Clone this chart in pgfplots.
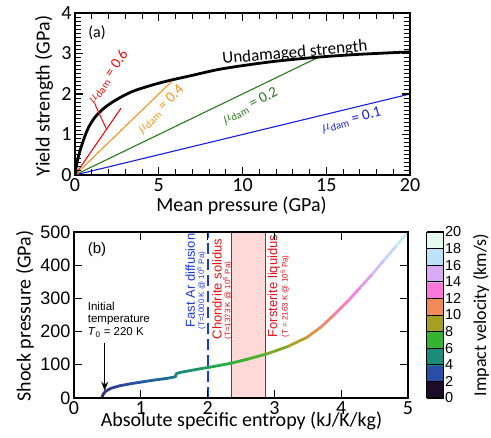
\documentclass[border=0pt]{standalone}
\usepackage{pgfplots}
\pgfplotsset{compat=1.18}
\usepackage{fontspec}
\setmainfont{Carlito}
\newfontfamily\arial{Liberation Sans}
\usetikzlibrary{arrows.meta}

\definecolor{cred}{RGB}{240,10,10}
\definecolor{corange}{RGB}{247,148,30}
\definecolor{cgreen}{RGB}{40,120,30}
\definecolor{cblue}{RGB}{20,30,220}
\definecolor{annred}{RGB}{232,16,26}
\definecolor{annblue}{RGB}{26,58,232}
\definecolor{shade}{RGB}{255,216,216}

\pgfplotsset{
  colormap={impact}{
    rgb255=(15,5,20) rgb255=(28,12,42) rgb255=(60,40,120) rgb255=(40,78,165)
    rgb255=(30,110,145) rgb255=(28,140,122) rgb255=(35,165,80) rgb255=(52,180,50)
    rgb255=(110,170,40) rgb255=(165,160,35) rgb255=(210,150,60) rgb255=(240,138,90)
    rgb255=(245,128,160) rgb255=(250,120,215) rgb255=(232,145,232) rgb255=(215,172,245)
    rgb255=(200,202,248) rgb255=(190,226,248) rgb255=(210,240,245) rgb255=(230,250,242)
    rgb255=(240,253,248)
  },
}

\pgfplotstableread{
s     p    v
0.42  3    1.8
0.44  12   2.0
0.47  20   2.2
0.55  29   2.5
0.69  37   2.8
0.85  43   3.0
1.04  49   3.3
1.20  54   3.6
1.39  59   4.0
1.52  64   4.3
1.53  73   4.6
1.59  77   4.8
1.75  83   5.2
1.89  88   5.5
2.04  93   5.8
2.20  99   6.2
2.36  105  6.6
2.60  117  7.1
2.89  133  7.8
3.20  155  8.8
3.49  183  9.8
3.70  214  10.8
3.89  250  11.8
4.10  292  12.9
4.29  334  13.9
4.47  374  15.0
4.64  415  16.0
4.82  457  17.0
5.00  500  18.0
}\hugoniot

\begin{document}
\begin{tikzpicture}

% ---------- panel (a)
\begin{axis}[
  at={(75pt,263pt)}, anchor=south west,
  scale only axis, width=335pt, height=162pt,
  xmin=0, xmax=20, ymin=0, ymax=4,
  xtick={0,5,...,20}, ytick={0,1,...,4},
  minor xtick={1,2,3,4,6,7,8,9,11,12,13,14,16,17,18,19},
  minor ytick={0.1,0.2,...,3.95},
  axis line style={line width=1.5pt},
  major tick style={black, line width=1.2pt},
  minor tick style={black, line width=0.9pt},
  major tick length=8pt, minor tick length=6pt,
  ticklabel style={font=\fontsize{20}{20}\selectfont},
  /pgf/number format/assume math mode=true,
]
\addplot[cblue, line width=1.1pt] coordinates {(0,0) (20,2.0)};
\addplot[cgreen, line width=1.1pt] coordinates {(0,0) (14.5,2.9)};
\addplot[corange, line width=1.1pt] coordinates {(0,0) (5.75,2.3)};
\addplot[cred, line width=1.1pt] coordinates {(0,0) (2.75,1.65)};
\addplot[black, line width=2.8pt, smooth, tension=0.5] coordinates {
  (0,0) (0.05,0.14) (0.1,0.26) (0.2,0.45) (0.3,0.6) (0.44,0.78) (0.6,0.97)
  (0.84,1.2) (1.2,1.43) (1.7,1.64) (2.2,1.79) (2.6,1.89) (3.1,2.0) (3.6,2.09)
  (4.6,2.22) (5.6,2.33) (7,2.46) (8.5,2.6) (10,2.7) (12,2.81) (14.5,2.91)
  (17,2.98) (20,3.04)};
% tick marks, inside, on all four sides
\pgfplotsinvokeforeach{5,10,15}{
  \draw[black, line width=1.2pt] (axis cs:#1,0) -- ++(0pt,8pt);
  \draw[black, line width=1.2pt] (axis cs:#1,4) -- ++(0pt,-8pt);
}
\pgfplotsinvokeforeach{1,2,3,4,6,7,8,9,11,12,13,14,16,17,18,19}{
  \draw[black, line width=0.9pt] (axis cs:#1,0) -- ++(0pt,6pt);
  \draw[black, line width=0.9pt] (axis cs:#1,4) -- ++(0pt,-6pt);
}
\pgfplotsinvokeforeach{1,2,3}{
  \draw[black, line width=1.2pt] (axis cs:0,#1) -- ++(8pt,0pt);
  \draw[black, line width=1.2pt] (axis cs:20,#1) -- ++(-8pt,0pt);
}
\pgfplotsinvokeforeach{0.1,0.2,0.3,0.4,0.5,0.6,0.7,0.8,0.9,1.1,1.2,1.3,1.4,1.5,1.6,1.7,1.8,1.9,2.1,2.2,2.3,2.4,2.5,2.6,2.7,2.8,2.9,3.1,3.2,3.3,3.4,3.5,3.6,3.7,3.8,3.9}{
  \draw[black, line width=0.9pt] (axis cs:0,#1) -- ++(6pt,0pt);
  \draw[black, line width=0.9pt] (axis cs:20,#1) -- ++(-6pt,0pt);
}
\draw[cred, line width=1pt] (axis cs:1.2,1.74) -- (axis cs:1.88,1.13);
\node[font=\fontsize{16}{16}\selectfont] at (axis cs:1.31,3.5) {(a)};
\node[font=\fontsize{17}{17}\selectfont, rotate=5] at (axis cs:13.13,3.01) {Undamaged strength};
\node[cred, font=\fontsize{15}{15}\selectfont, rotate=55, inner sep=0pt] at (axis cs:1.97,2.42) {$\mu$\textsubscript{dam} = 0.6};
\node[corange, font=\fontsize{15}{15}\selectfont, rotate=45, inner sep=0pt] at (axis cs:5.1,1.62) {$\mu$\textsubscript{dam} = 0.4};
\node[cgreen, font=\fontsize{15}{15}\selectfont, rotate=28, inner sep=0pt] at (axis cs:10.45,1.70) {$\mu$\textsubscript{dam} = 0.2};
\node[cblue, font=\fontsize{15}{15}\selectfont, rotate=15, inner sep=0pt] at (axis cs:16.5,1.36) {$\mu$\textsubscript{dam} = 0.1};
\end{axis}

% ---------- panel (b)
\begin{axis}[
  at={(74pt,40pt)}, anchor=south west,
  scale only axis, width=334pt, height=166pt,
  xmin=0, xmax=5, ymin=0, ymax=500,
  xtick={0,1,...,5}, ytick={0,100,...,500},
  axis line style={line width=1.5pt},
  tick style={black, line width=1.2pt},
  major tick length=8pt,
  xticklabel style={font=\fontsize{20}{20}\selectfont},
  yticklabel style={font=\arial\fontsize{18}{18}\selectfont},
  /pgf/number format/assume math mode=true,
  axis on top,
  colormap name=impact,
  point meta min=0, point meta max=20,
  colorbar, colorbar sampled,
  colorbar style={
    at={(parent axis.south east)}, anchor=south west, xshift=10pt,
    width=17pt, samples=11,
    ytick={0,2,...,20},
    major tick length=0pt,
    ymajorgrids, major grid style={black, line width=0.8pt},
    axis on top,
    axis line style={line width=1.5pt},
    yticklabel style={font=\arial\fontsize{14.5}{13}\selectfont, xshift=-2pt},
    /pgf/number format/assume math mode=true,
  },
]
\addplot[draw=none, fill=shade] coordinates {(2.36,0) (2.87,0) (2.87,500) (2.36,500)} \closedcycle;
\addplot[black!70, line width=0.9pt] coordinates {(2.36,0) (2.36,500)};
\addplot[black!70, line width=0.9pt] coordinates {(2.87,0) (2.87,500)};
\addplot[annblue, line width=2.2pt, dash pattern=on 11pt off 5pt] coordinates {(2.0,0) (2.0,500)};
\addplot[mesh, point meta=explicit, line width=2.8pt, line cap=round] table[x=s, y=p, meta=v] {\hugoniot};
\pgfplotsinvokeforeach{1,2,3,4}{
  \draw[black, line width=1.2pt] (axis cs:#1,0) -- ++(0pt,8pt);
  \draw[black, line width=1.2pt] (axis cs:#1,500) -- ++(0pt,-8pt);
}
\pgfplotsinvokeforeach{100,200,300,400}{
  \draw[black, line width=1.2pt] (axis cs:0,#1) -- ++(8pt,0pt);
  \draw[black, line width=1.2pt] (axis cs:5,#1) -- ++(-8pt,0pt);
}

\node[font=\arial\fontsize{15}{15}\selectfont] at (axis cs:0.345,447) {(b)};
\node[font=\arial\fontsize{11.5}{12.5}\selectfont, align=left, anchor=north west, inner sep=0pt]
  at (axis cs:0.205,290) {Initial\\temperature\\\textit{T}\textsubscript{0} = 220 K};
\draw[-{Stealth[length=9pt, width=7pt]}, line width=1.3pt] (axis cs:0.46,167) -- (axis cs:0.46,22);

\node[annblue, font=\arial\fontsize{13}{13}\selectfont, rotate=90, anchor=west, inner sep=0pt] at (axis cs:1.74,212) {Fast Ar diffusion};
\node[annblue, font=\arial\fontsize{8}{8}\selectfont, rotate=90, anchor=west, inner sep=0pt] at (axis cs:1.91,206) {(T=1000 K @ 10\textsuperscript{5} Pa)};
\node[annred, font=\arial\fontsize{13}{13}\selectfont, rotate=90, anchor=west, inner sep=0pt] at (axis cs:2.14,176) {Chondrite solidus};
\node[annred, font=\arial\fontsize{8}{8}\selectfont, rotate=90, anchor=west, inner sep=0pt] at (axis cs:2.30,176) {(T=1373 K @ 10\textsuperscript{5} Pa)};
\node[annred, font=\arial\fontsize{13}{13}\selectfont, rotate=90, anchor=west, inner sep=0pt] at (axis cs:2.99,182) {Forsterite liquidus};
\node[annred, font=\arial\fontsize{8}{8}\selectfont, rotate=90, anchor=west, inner sep=0pt] at (axis cs:3.16,182) {(T = 2163 K @ 10\textsuperscript{5} Pa)};
\end{axis}

% ---------- axis labels
\node[rotate=90, font=\fontsize{20}{20}\selectfont] at (44pt,342pt) {Yield strength (GPa)};
\node[font=\fontsize{20}{20}\selectfont] at (241.5pt,232pt) {Mean pressure (GPa)};
\node[rotate=90, font=\fontsize{20}{20}\selectfont] at (25pt,122pt) {Shock pressure (GPa)};
\node[font=\fontsize{20}{20}\selectfont] at (241.5pt,17pt) {Absolute specific entropy (kJ/K/kg)};
\node[rotate=90, font=\fontsize{18}{18}\selectfont] at (481pt,123pt) {Impact velocity (km/s)};

\pgfresetboundingbox
\useasboundingbox (0pt,0pt) rectangle (491pt,438pt);
\end{tikzpicture}
\end{document}
